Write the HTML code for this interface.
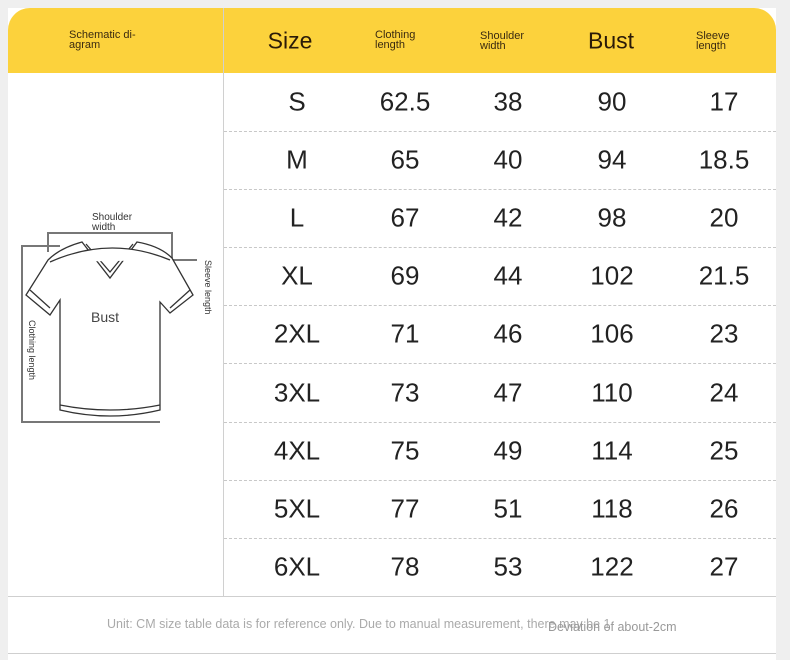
<!DOCTYPE html><html><head><style>
body{margin:0;width:790px;height:660px;background:#efefef;font-family:"Liberation Sans",sans-serif;position:relative;overflow:hidden}
.card{position:absolute;left:8px;top:8px;width:768px;height:652px;background:#fff}
.hdr{position:absolute;left:8px;top:8px;width:768px;height:65px;background:#fcd23c;border-radius:22px 22px 0 0}
.t{position:absolute;transform:translate(-50%,-50%);white-space:nowrap;color:#222}
.sm{font-size:11px;line-height:10px;color:#3a2a10;transform:translateY(-50%)}
.big{font-size:23px;color:#2a1a08}
.n{font-size:26px}
.hl{position:absolute;left:224px;width:552px;border-top:1px dashed #c8c8c8}
</style></head><body>
<div class="card"></div>
<div class="hdr"></div>
<div style="position:absolute;left:223px;top:8px;width:1px;height:588px;background:#d0d0d0"></div>
<div class="t sm" style="left:69px;top:40px">Schematic di-<br>agram</div>
<div class="t big" style="left:290px;top:41px">Size</div>
<div class="t sm" style="left:375px;top:40px">Clothing<br>length</div>
<div class="t sm" style="left:480px;top:41px">Shoulder<br>width</div>
<div class="t big" style="left:611px;top:41px">Bust</div>
<div class="t sm" style="left:696px;top:41px">Sleeve<br>length</div>
<div id="rows"></div>
<div style="position:absolute;left:8px;top:596px;width:768px;border-top:1px solid #cfcfcf"></div>
<div style="position:absolute;left:8px;top:653px;width:768px;border-top:1px solid #cfcfcf"></div>
<div style="position:absolute;left:107px;top:617px;font-size:12.5px;color:#aaa;white-space:nowrap">Unit: CM size table data is for reference only. Due to manual measurement, there may be 1</div>
<div style="position:absolute;left:548px;top:620px;font-size:12.5px;color:#999;white-space:nowrap">Deviation of about-2cm</div>
<svg style="position:absolute;left:0;top:200px" width="230" height="240" viewBox="0 0 230 240">
<g fill="none" stroke="#777" stroke-width="2">
<path d="M48 52V33H172V58"/><path d="M173 60H197"/><path d="M60 46H22V222H160"/><path d="M60 105H160"/>
</g>
<g fill="#fff" stroke="#333" stroke-width="1.3">
<path d="M82 42Q60 48 48 60L26 95L50 115L60 100V210Q110 222 160 210V102L170 113L193 95L172 58Q160 46 137 42L110 78Z"/>
<path d="M86 44L110 72L133 44"/><path d="M50 62Q110 35 170 60"/><path d="M30 90L50 108M190 90L170 108M60 205Q110 215 160 205"/>
</g>
<text x="92" y="20" font-size="10" fill="#333">Shoulder</text><text x="92" y="30" font-size="10" fill="#333">width</text>
<text x="91" y="122" font-size="14" fill="#444">Bust</text>
<text transform="translate(29,120) rotate(90)" font-size="9" fill="#333">Clothing length</text>
<text transform="translate(205,60) rotate(90)" font-size="9" fill="#333">Sleeve length</text>
</svg>
<script>
var d=[["S","62.5","38","90","17"],["M","65","40","94","18.5"],["L","67","42","98","20"],["XL","69","44","102","21.5"],["2XL","71","46","106","23"],["3XL","73","47","110","24"],["4XL","75","49","114","25"],["5XL","77","51","118","26"],["6XL","78","53","122","27"]];
var xs=[297,405,508,612,724],h="";
d.forEach(function(r,i){var cy=102+i*58.1;r.forEach(function(v,j){h+='<div class="t n" style="left:'+xs[j]+'px;top:'+cy+'px">'+v+'</div>'});if(i<8)h+='<div class="hl" style="top:'+(131+i*58.1)+'px"></div>'});
document.getElementById("rows").innerHTML=h;
</script>
</body></html>
